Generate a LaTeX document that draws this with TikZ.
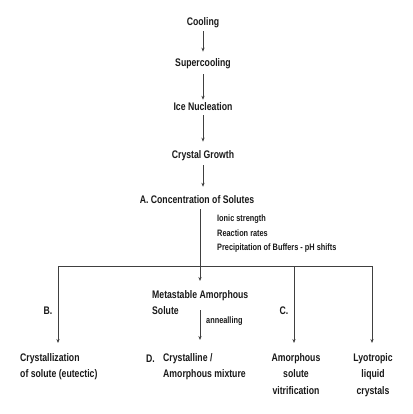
\documentclass[tikz,border=0pt]{standalone}
\usepackage{fontspec}
\setmainfont{Liberation Sans}[FakeStretch=0.79]
\usetikzlibrary{arrows.meta}
\begin{document}
\begin{tikzpicture}[x=1pt,y=-1pt,
  lbl/.style={font=\bfseries\fontsize{11}{16.5}\selectfont, inner sep=0pt, text=black!90},
  sml/.style={font=\bfseries\fontsize{9.3}{14.5}\selectfont, inner sep=0pt, text=black!90},
  arr/.style={draw=black!75, line width=0.8pt, -{Stealth[length=4pt,width=3.2pt]}},
  ln/.style={draw=black!75, line width=0.8pt}]
\useasboundingbox (0,0) rectangle (412,414);
\node[lbl] (cool) at (203,23) {Cooling};
\node[lbl] (super) at (203,64) {Supercooling};
\node[lbl] (ice) at (203,107) {Ice Nucleation};
\node[lbl] (grow) at (203,156) {Crystal Growth};
\node[lbl] (conc) at (197,200) {A. Concentration of Solutes};
\node[sml, align=left, anchor=north west] (eff) at (217,215) {Ionic strength\\Reaction rates\\Precipitation of Buffers - pH shifts};
\node[lbl, align=left, anchor=north west] (meta) at (152,290) {Metastable Amorphous\\Solute};
\node[sml, anchor=west] (ann) at (206,321) {annealling};
\node[lbl] (B) at (48,311) {B.};
\node[lbl] (C) at (284,311) {C.};
\node[lbl, align=left, anchor=north west] (crys) at (20,353) {Crystallization\\of solute (eutectic)};
\node[lbl, anchor=base west] (D) at (146,362) {D.};
\node[lbl, align=left, anchor=north west] (mix) at (163,353) {Crystalline /\\Amorphous mixture};
\node[lbl, align=center, anchor=north] (vit) at (296,353) {Amorphous\\solute\\vitrification};
\node[lbl, align=center, anchor=north] (lyo) at (373,353) {Lyotropic\\liquid\\crystals};
\coordinate (m0) at (200,281);
\coordinate (m1) at (200,310);
\coordinate (m2) at (200,340);
\coordinate (h1) at (58,266);
\coordinate (h2) at (294,266);
\coordinate (h3) at (372,266);
\coordinate (b1) at (58,343);
\coordinate (b2) at (294,343);
\coordinate (b3) at (372,343);
\draw[arr, shorten <=3pt, shorten >=7pt] (cool) -- (super);
\draw[arr, shorten <=5pt, shorten >=3pt] (super) -- (ice);
\draw[arr, shorten <=4pt, shorten >=9pt] (ice) -- (grow);
\draw[arr, shorten <=4pt, shorten >=9pt] (grow) -- (grow |- conc.north);
\draw[arr, shorten <=5pt] (conc.south -| m0) -- (m0);
\draw[arr] (m1) -- (m2);
\draw[ln] (h1) -- (h3);
\draw[arr] (h1) -- (b1);
\draw[arr] (h2) -- (b2);
\draw[arr] (h3) -- (b3);
\end{tikzpicture}
\end{document}
